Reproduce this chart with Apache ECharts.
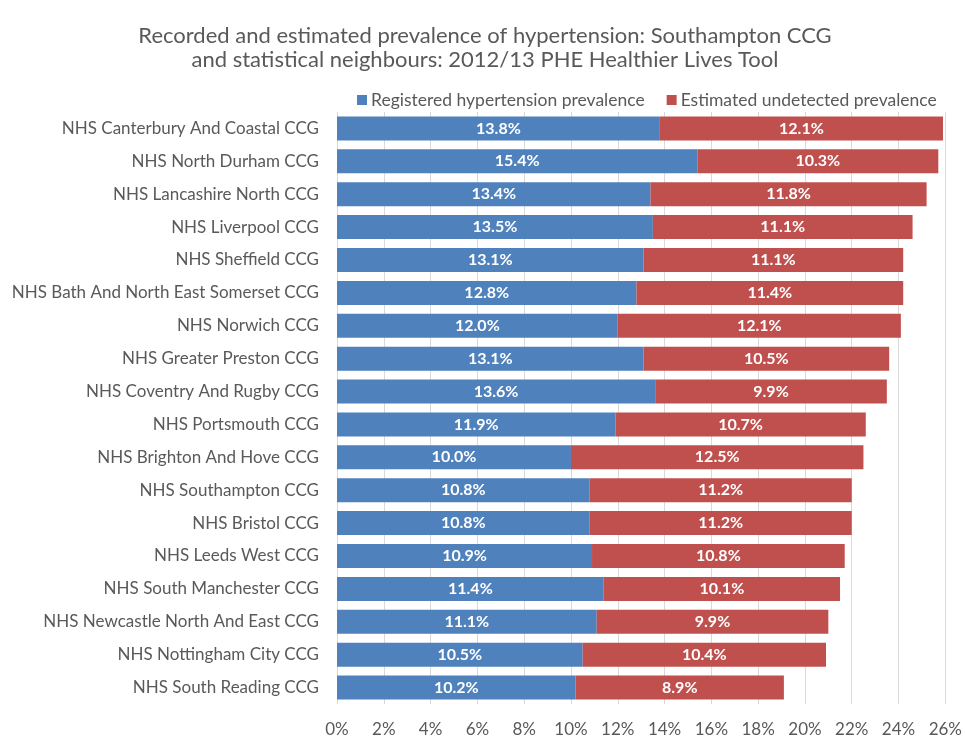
<!DOCTYPE html>
<html>
<head>
<meta charset="utf-8">
<script src="https://cdn.jsdelivr.net/npm/echarts@6/dist/echarts.min.js"></script>
<style>
  html, body { margin: 0; padding: 0; background: #fff; }
  #chart { width: 965px; height: 738px; }
</style>
</head>
<body>
<div id="chart"></div>
<script>
const categories = [
  'NHS Canterbury And Coastal CCG',
  'NHS North Durham CCG',
  'NHS Lancashire North CCG',
  'NHS Liverpool CCG',
  'NHS Sheffield CCG',
  'NHS Bath And North East Somerset CCG',
  'NHS Norwich CCG',
  'NHS Greater Preston CCG',
  'NHS Coventry And Rugby CCG',
  'NHS Portsmouth CCG',
  'NHS Brighton And Hove CCG',
  'NHS Southampton CCG',
  'NHS Bristol CCG',
  'NHS Leeds West CCG',
  'NHS South Manchester CCG',
  'NHS Newcastle North And East CCG',
  'NHS Nottingham City CCG',
  'NHS South Reading CCG'
];
const registered = [13.8, 15.4, 13.4, 13.5, 13.1, 12.8, 12.0, 13.1, 13.6, 11.9, 10.0, 10.8, 10.8, 10.9, 11.4, 11.1, 10.5, 10.2];
const undetected = [12.1, 10.3, 11.8, 11.1, 11.1, 11.4, 12.1, 10.5, 9.9, 10.7, 12.5, 11.2, 11.2, 10.8, 10.1, 9.9, 10.4, 8.9];

const font = 'Lato, "Open Sans", sans-serif';
const grey = '#595959';

const chart = echarts.init(document.getElementById('chart'));

const barLabel = {
  show: true,
  position: 'inside',
  color: '#fff',
  fontFamily: font,
  fontWeight: 'bold',
  fontSize: 16,
  formatter: p => p.value.toFixed(1) + '%'
};

chart.setOption({
  animation: false,
  textStyle: { fontFamily: font },
  title: {
    text: 'Recorded and estimated prevalence of hypertension: Southampton CCG\nand statistical neighbours: 2012/13 PHE Healthier Lives Tool',
    left: 480,
    top: 19,
    textAlign: 'center',
    textStyle: { fontFamily: font, fontSize: 22, fontWeight: 'normal', color: grey, lineHeight: 24 }
  },
  legend: {
    top: 86,
    left: 352,
    itemWidth: 10,
    itemHeight: 10,
    itemGap: 22,
    icon: 'rect',
    textStyle: { fontFamily: font, fontSize: 17.5, color: grey, padding: [0, 0, 0, -1] },
    data: ['Registered hypertension prevalence', 'Estimated undetected prevalence']
  },
  grid: { left: 337, right: 18, top: 112, bottom: 32 },
  xAxis: {
    type: 'value',
    min: 0,
    max: 26,
    interval: 2,
    axisLine: { show: false },
    axisTick: { show: false },
    axisLabel: { formatter: '{value}%', color: grey, fontSize: 17, fontFamily: font, margin: 17 },
    splitLine: { show: true, lineStyle: { color: '#d9d9d9', width: 1 } }
  },
  yAxis: {
    type: 'category',
    inverse: true,
    data: categories,
    axisLine: { show: false },
    axisTick: { show: false },
    axisLabel: { color: grey, fontSize: 17, fontFamily: font, margin: 18 }
  },
  series: [
    {
      name: 'Registered hypertension prevalence',
      type: 'bar',
      stack: 'total',
      barWidth: 24,
      itemStyle: { color: '#4f81bd' },
      label: barLabel,
      data: registered
    },
    {
      name: 'Estimated undetected prevalence',
      type: 'bar',
      stack: 'total',
      barWidth: 24,
      itemStyle: { color: '#c0504d' },
      label: barLabel,
      data: undetected
    }
  ]
});
</script>
</body>
</html>
